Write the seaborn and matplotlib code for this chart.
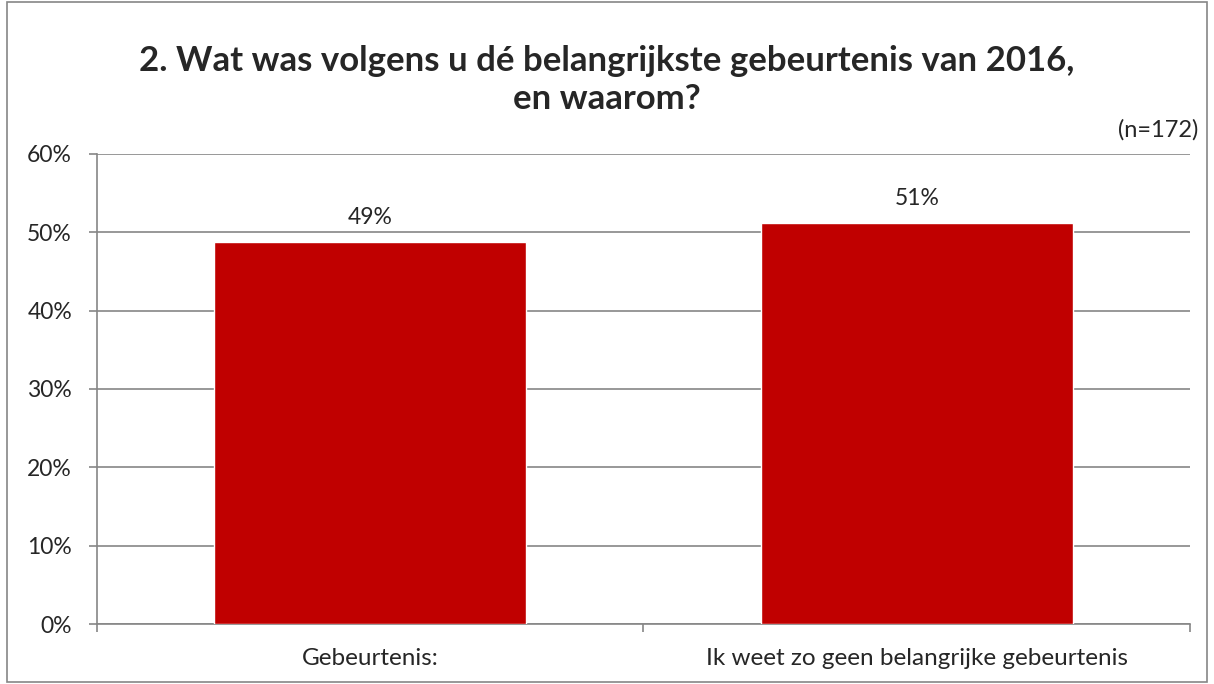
import matplotlib
matplotlib.use("Agg")
import matplotlib.pyplot as plt
import seaborn as sns
import pandas as pd
from matplotlib.patches import Rectangle
from matplotlib.ticker import FixedLocator, PercentFormatter

# data
categories = ["Gebeurtenis:", "Ik weet zo geen belangrijke gebeurtenis"]
values = [48.8, 51.2]
value_labels = ["49%", "51%"]
y_ticks = [0, 10, 20, 30, 40, 50, 60]

sns.set_style("white")
plt.rcParams["font.family"] = ["Lato", "DejaVu Sans"]

df = pd.DataFrame({"cat": categories, "val": values})

fig = plt.figure(figsize=(12.14, 6.84), dpi=100)
ax = fig.add_axes([0.0799, 0.0877, 0.9003, 0.6872])

sns.barplot(data=df, x="cat", y="val", color="#C00000", width=0.571,
            saturation=1, ax=ax, zorder=3)

grid_c = "#868686"
ax.set_ylim(0, 60)
ax.set_xlim(-0.5, 1.5)
ax.set_yticks(y_ticks)
ax.yaxis.set_major_formatter(PercentFormatter(decimals=0))
ax.yaxis.grid(True, color=grid_c, linewidth=1.2, zorder=0)
ax.tick_params(axis="y", length=6, width=1.2, color=grid_c, labelsize=16.5,
               pad=12, direction="out", left=True)
ax.tick_params(axis="x", length=0, labelsize=17.5, pad=17)
ax.xaxis.set_minor_locator(FixedLocator([-0.5, 0.5, 1.5]))
ax.tick_params(axis="x", which="minor", length=6, width=1.2, color=grid_c,
               direction="out", bottom=True)
ax.set_xlabel("")
ax.set_ylabel("")

for s in ["top", "right"]:
    ax.spines[s].set_visible(False)
for s in ["left", "bottom"]:
    ax.spines[s].set_color(grid_c)
    ax.spines[s].set_linewidth(1.2)

for i, (v, lab) in enumerate(zip(values, value_labels)):
    ax.text(i, v + 3.1, lab, ha="center", va="center", fontsize=16.5)

fig.text(0.5, 0.883, "2. Wat was volgens u dé belangrijkste gebeurtenis van 2016,\nen waarom?",
         ha="center", va="center", fontsize=25, fontweight="bold",
         linespacing=1.2)
fig.text(0.987, 0.81, "(n=172)", ha="right", va="center", fontsize=17)

fig.patches.append(Rectangle((0.006, 0.003), 0.988, 0.994, transform=fig.transFigure,
                             fill=False, edgecolor="#868686", linewidth=1.2))

fig.savefig("out.png", dpi=100)
